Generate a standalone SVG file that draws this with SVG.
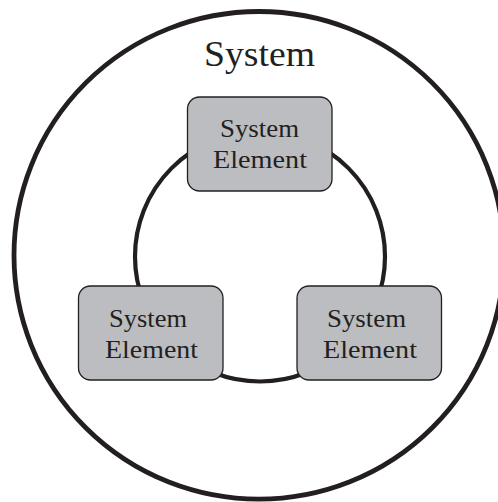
<svg xmlns="http://www.w3.org/2000/svg" width="498" height="502" viewBox="0 0 498 502">
<style>
.ring{fill:none;stroke:#231f20}
.box{fill:#bcbdc0;stroke:#231f20;stroke-width:1.3}
.lbl{font-family:"Liberation Serif","Times New Roman",serif;font-size:25.5px;fill:#231f20;text-anchor:middle}
.title{font-family:"Liberation Serif","Times New Roman",serif;font-size:36px;fill:#231f20;text-anchor:middle}
</style>
<rect width="498" height="502" fill="#ffffff"/>
<g id="system">
<ellipse class="ring" cx="259" cy="255.3" rx="245" ry="243.8" stroke-width="4.8"/>
<text class="title" x="259.5" y="66" textLength="111" lengthAdjust="spacingAndGlyphs">System</text>
</g>
<g id="connectors">
<circle class="ring" cx="260" cy="256.5" r="125" stroke-width="4.2"/>
</g>
<g id="element-top">
<rect class="box" x="187.5" y="97" width="144.5" height="94" rx="12"/>
<text class="lbl" x="259.5" y="137" textLength="79" lengthAdjust="spacingAndGlyphs">System</text>
<text class="lbl" x="260" y="168" textLength="94" lengthAdjust="spacingAndGlyphs">Element</text>
</g>
<g id="element-left">
<rect class="box" x="78.5" y="286" width="144.5" height="94" rx="12"/>
<text class="lbl" x="148" y="327" textLength="78" lengthAdjust="spacingAndGlyphs">System</text>
<text class="lbl" x="151.5" y="358" textLength="93" lengthAdjust="spacingAndGlyphs">Element</text>
</g>
<g id="element-right">
<rect class="box" x="297" y="286" width="144.5" height="94" rx="12"/>
<text class="lbl" x="366.5" y="327" textLength="79" lengthAdjust="spacingAndGlyphs">System</text>
<text class="lbl" x="370" y="358" textLength="94" lengthAdjust="spacingAndGlyphs">Element</text>
</g>
</svg>
